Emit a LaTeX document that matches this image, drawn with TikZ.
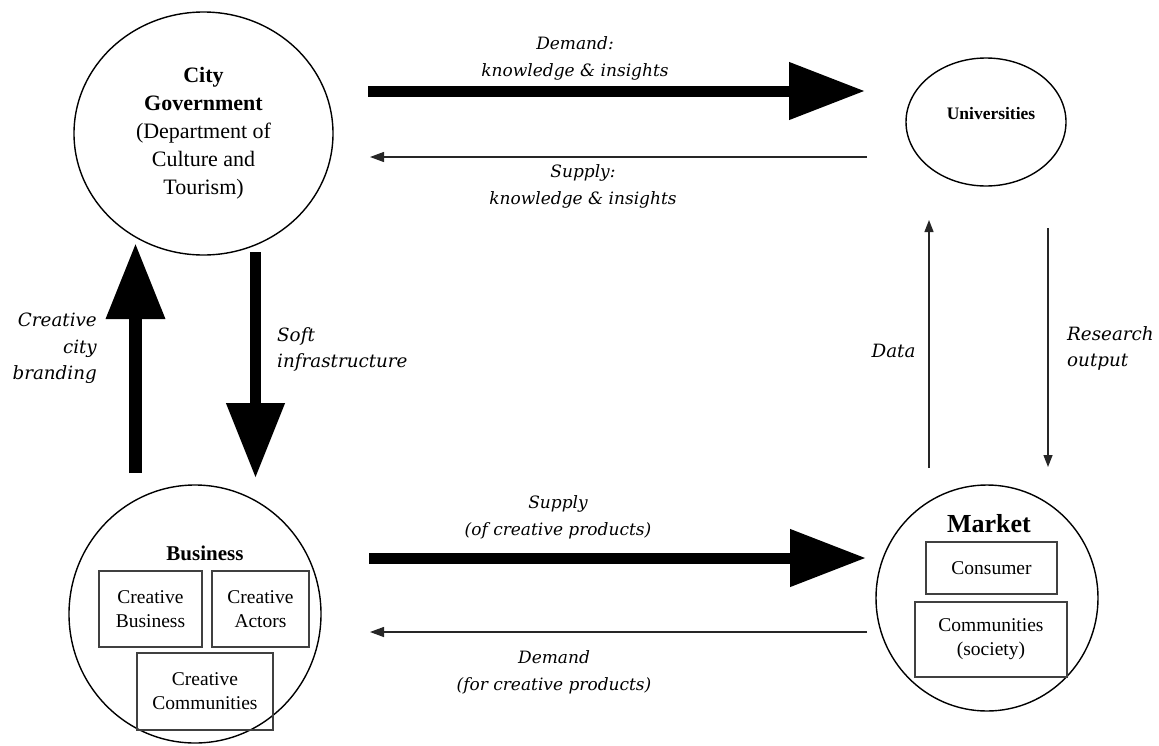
\documentclass[tikz,border=0pt]{standalone}
\usepackage{fontspec}
\setmainfont{Liberation Serif}
\newfontfamily\flowfont{DejaVu Serif}
\usetikzlibrary{arrows.meta,shapes.geometric}

\tikzset{
  actor/.style={draw, ellipse, line width=1.4pt, inner sep=0pt, align=center},
  title/.style={font=\bfseries, inner sep=0pt},
  member/.style={draw=black!75, line width=1.2pt, inner sep=0pt, align=center,
    font=\fontsize{19.5}{24}\selectfont},
  bigflow/.style={line width=11pt, -{Triangle[length=76pt,width=55pt]}},
  smallflow/.style={line width=1.3pt, draw=black!85, -{Triangle[length=14pt,width=10pt]}},
  flowlabel/.style={font=\flowfont\itshape\fontsize{17}{27}\selectfont, inner sep=0pt},
  sidelabel/.style={font=\flowfont\itshape\fontsize{18.3}{26.5}\selectfont, inner sep=0pt}
}

\begin{document}
\begin{tikzpicture}[x=1pt,y=-1pt]
\useasboundingbox (0,0) rectangle (1159,745);

% the four actors
\node[actor, minimum width=259pt, minimum height=243pt,
      font=\fontsize{22}{28}\selectfont] (gov) at (203.5,133.5)
  {\textbf{City}\\\textbf{Government}\\(Department of\\Culture and\\Tourism)};
\node[actor, minimum width=160pt, minimum height=128pt] (uni) at (986,122) {};
\node[title, font=\bfseries\fontsize{17.5}{20}\selectfont] (unititle) at (991,114) {Universities};

\node[actor, minimum width=252pt, minimum height=258pt] (bus) at (195,614) {};
\node[title, font=\bfseries\fontsize{21}{24}\selectfont] (bustitle) at (205,553) {Business};
\node[member, minimum width=103pt, minimum height=76pt] (cbus) at (150.5,609) {Creative\\Business};
\node[member, minimum width=97pt, minimum height=76pt] (cact) at (260.5,609) {Creative\\Actors};
\node[member, minimum width=136pt, minimum height=77pt] (ccom) at (205,691.5) {Creative\\Communities};

\node[actor, minimum width=222pt, minimum height=226pt] (mkt) at (987,598) {};
\node[title, font=\bfseries\fontsize{26}{28}\selectfont] (mkttitle) at (989,524) {Market};
\node[member, minimum width=131pt, minimum height=52pt] (cons) at (991.5,568) {Consumer};
\node[member, minimum width=152pt, minimum height=75pt] (soc) at (991,639.5) {Communities\\(society)};

% arrow end points
\coordinate (govE1) at (368,91);   \coordinate (uniW1) at (865,91);
\coordinate (uniW2) at (867,157);  \coordinate (govE2) at (370,157);
\coordinate (busE1) at (369,558);  \coordinate (mktW1) at (866,558);
\coordinate (mktW2) at (867,632);  \coordinate (busE2) at (370,632);
\coordinate (busN1) at (135.5,473); \coordinate (govS1) at (135.5,243);
\coordinate (govS2) at (255.5,252); \coordinate (busN2) at (255.5,478);
\coordinate (mktN1) at (929,468);  \coordinate (uniS1) at (929,220);
\coordinate (uniS2) at (1048,228); \coordinate (mktN2) at (1048,467);

% flows
\draw[bigflow] (govE1) -- (uniW1);
\draw[smallflow] (uniW2) -- (govE2);
\draw[bigflow] (busE1) -- (mktW1);
\draw[smallflow] (mktW2) -- (busE2);
\draw[line width=13pt, -{Triangle[length=76pt,width=56pt]}] (busN1) -- (govS1);
\draw[bigflow, -{Triangle[length=75pt,width=56pt]}] (govS2) -- (busN2);
\draw[smallflow, -{Triangle[length=12pt,width=9pt]}] (mktN1) -- (uniS1);
\draw[smallflow, -{Triangle[length=12pt,width=9pt]}] (uniS2) -- (mktN2);

% flow labels
\node[flowlabel, align=center] (l1) at (575,58) {Demand:\\knowledge \& insights};
\node[flowlabel, align=center] (l2) at (583,186.5) {Supply:\\knowledge \& insights};
\node[flowlabel, align=center] (l3) at (558,517) {Supply\\(of creative products)};
\node[flowlabel, align=center] (l4) at (554,672.5) {Demand\\(for creative products)};
\node[sidelabel, align=right, anchor=east] (l5) at (97,348.5) {Creative\\city\\branding};
\node[sidelabel, align=left, anchor=west] (l6) at (277,349.5) {Soft\\infrastructure};
\node[sidelabel] (l7) at (893.5,351) {Data};
\node[sidelabel, align=left, anchor=west] (l8) at (1067,348.5) {Research\\output};
\end{tikzpicture}
\end{document}
